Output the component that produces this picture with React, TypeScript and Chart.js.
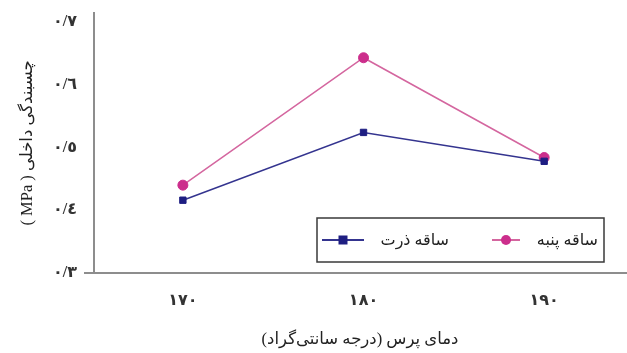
import { useEffect, useRef } from "react";
import { Chart, registerables } from "chart.js";

Chart.register(...registerables);

// Press temperature (°C) and internal bond (MPa) for the two stalk boards
const temperatures = [170, 180, 190];
const cornStalk = [0.416, 0.524, 0.478];
const cottonStalk = [0.44, 0.643, 0.484];
const seriesNames = ["ساقه ذرت", "ساقه پنبه"];
const xTitle = "دمای پرس (درجه سانتی‌گراد)";
const yTitle = "چسبندگی داخلی ( MPa )";

const FONT = "'Liberation Serif', 'DejaVu Sans', serif";
const AXIS_GRAY = "#8d8d8d";
const TEXT = "#333333";
const CORN_LINE = "#34348f";
const CORN_MARK = "#1e1e82";
const COTTON_LINE = "#d4669f";
const COTTON_MARK = "#cc2e8c";

const ARABIC_DIGITS = "٠١٢٣٤٥٦٧٨٩";
const toArabicDigits = (s: string) =>
  s.replace(/\d/g, (d) => ARABIC_DIGITS[Number(d)]).replace(".", "/");

// RTL embedding so mixed Persian/Latin titles keep their reading order
const rtl = (s: string) => "\u202B" + s + "\u202C";

// Bordered legend box drawn inside the plot, marker on the left of each label
const boxLegend = {
  id: "boxLegend",
  afterDraw(chart: any) {
    const { ctx, chartArea } = chart;
    const w = 287;
    const h = 44;
    const right = chartArea.right - 22;
    const bottom = chartArea.bottom - 11;
    const left = right - w;
    const top = bottom - h;
    ctx.save();
    ctx.fillStyle = "#ffffff";
    ctx.fillRect(left, top, w, h);
    ctx.strokeStyle = "#3a3a3a";
    ctx.lineWidth = 1.5;
    ctx.strokeRect(left, top, w, h);

    const cy = top + h / 2;
    const items = [
      { lineStart: 5, lineEnd: 47, textRight: 132 },
      { lineStart: 175, lineEnd: 203, textRight: 281 },
    ];
    chart.data.datasets.forEach((ds: any, i: number) => {
      const it = items[i];
      const x0 = left + it.lineStart;
      const x1 = left + it.lineEnd;
      const mx = (x0 + x1) / 2;
      ctx.strokeStyle = ds.borderColor;
      ctx.lineWidth = 2;
      ctx.beginPath();
      ctx.moveTo(x0, cy);
      ctx.lineTo(x1, cy);
      ctx.stroke();
      ctx.fillStyle = ds.pointBackgroundColor;
      if (ds.pointStyle === "rect") {
        ctx.fillRect(mx - 4.5, cy - 4.5, 9, 9);
      } else {
        ctx.beginPath();
        ctx.arc(mx, cy, 5, 0, Math.PI * 2);
        ctx.fill();
      }
      ctx.fillStyle = "#222";
      ctx.font = `16px ${FONT}`;
      ctx.textAlign = "right";
      ctx.textBaseline = "middle";
      ctx.fillText(ds.label, left + it.textRight, cy + 1);
    });
    ctx.restore();
  },
};

export default function App() {
  const canvasRef = useRef<HTMLCanvasElement>(null);

  useEffect(() => {
    if (!canvasRef.current) return;
    const chart = new Chart(canvasRef.current, {
      type: "line",
      data: {
        datasets: [
          {
            label: seriesNames[0],
            data: temperatures.map((t, i) => ({ x: t, y: cornStalk[i] })),
            borderColor: CORN_LINE,
            borderWidth: 1.5,
            pointStyle: "rect",
            pointRadius: 4.5,
            pointBackgroundColor: CORN_MARK,
            pointBorderColor: CORN_MARK,
            pointBorderWidth: 1,
            tension: 0,
          },
          {
            label: seriesNames[1],
            data: temperatures.map((t, i) => ({ x: t, y: cottonStalk[i] })),
            borderColor: COTTON_LINE,
            borderWidth: 1.5,
            pointStyle: "circle",
            pointRadius: 5,
            pointBackgroundColor: COTTON_MARK,
            pointBorderColor: COTTON_MARK,
            pointBorderWidth: 1,
            tension: 0,
          },
        ],
      },
      options: {
        animation: false,
        responsive: false,
        layout: { padding: { top: 13, right: 0, left: 0, bottom: 0 } },
        plugins: {
          legend: { display: false },
          tooltip: { enabled: false },
        },
        scales: {
          x: {
            type: "linear",
            min: 165.08,
            max: 194.53,
            afterFit: (scale: any) => {
              scale.height = 80;
              scale.paddingLeft = 0;
              scale.paddingRight = 0;
            },
            grid: { display: false, drawTicks: false },
            border: { display: true, color: AXIS_GRAY, width: 2 },
            ticks: {
              stepSize: 10,
              includeBounds: false,
              autoSkip: false,
              maxRotation: 0,
              padding: 18,
              color: TEXT,
              font: { family: FONT, size: 16, weight: "bold" },
              callback: (v: any) => toArabicDigits(String(v)),
            },
            title: {
              display: true,
              text: rtl(xTitle),
              color: "#222",
              font: { family: FONT, size: 16.5 },
              padding: { top: 0, bottom: 3.5 },
            },
          },
          y: {
            min: 0.3,
            max: 0.7143,
            afterFit: (scale: any) => {
              scale.width = 94;
              scale.paddingTop = 0;
              scale.paddingBottom = 0;
            },
            grid: {
              display: true,
              drawOnChartArea: false,
              drawTicks: true,
              tickLength: 10,
              lineWidth: 2,
              color: (ctx: any) => (ctx.index === 0 ? AXIS_GRAY : "rgba(0,0,0,0)"),
            },
            border: { display: true, color: AXIS_GRAY, width: 2 },
            ticks: {
              stepSize: 0.1,
              includeBounds: false,
              padding: 7,
              color: TEXT,
              font: { family: FONT, size: 16, weight: "bold" },
              callback: (v: any) => toArabicDigits(Number(v).toFixed(1)),
            },
            title: {
              display: true,
              text: rtl(yTitle),
              color: "#222",
              font: { family: FONT, size: 16.5 },
              padding: { top: 17.5, bottom: 0 },
            },
          },
        },
      },
      plugins: [boxLegend],
    } as any);
    return () => chart.destroy();
  }, []);

  // The canvas runs slightly past the right edge so the x axis reaches the border
  return (
    <div style={{ position: "fixed", left: 0, top: 0, width: 632, height: 353, background: "#fff" }}>
      <canvas ref={canvasRef} width={632} height={353} />
    </div>
  );
}
